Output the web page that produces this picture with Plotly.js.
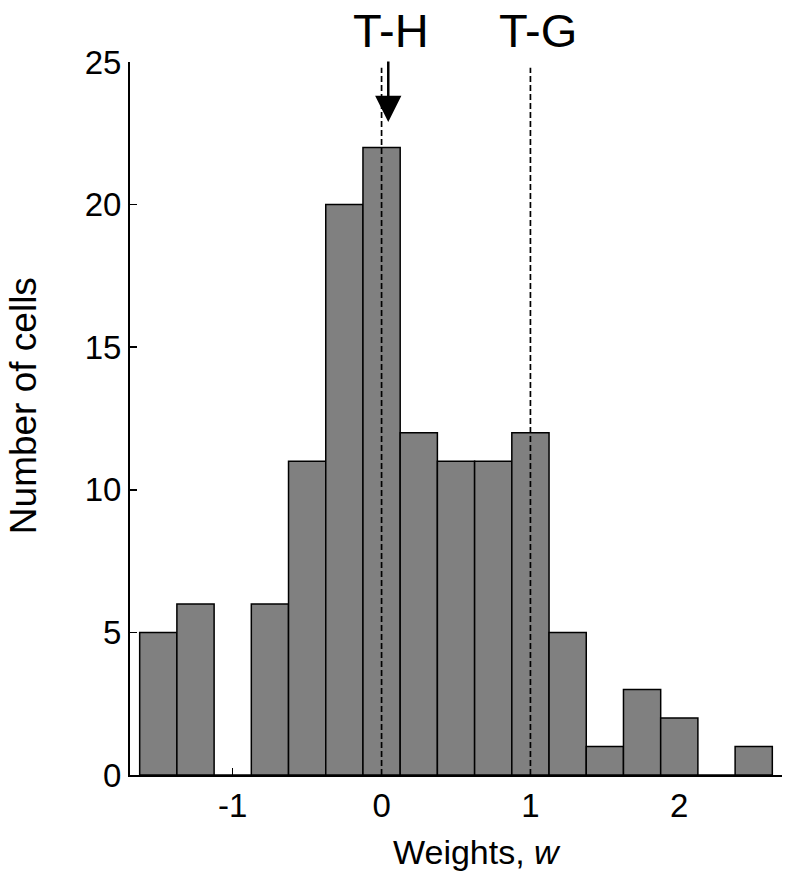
<!DOCTYPE html>
<html>
<head>
<meta charset="utf-8">
<script src="https://cdn.plot.ly/plotly-3.0.1.min.js"></script>
<style>
  html, body { margin: 0; padding: 0; background: #fff; }
  #plot { width: 800px; height: 883px; }
</style>
</head>
<body>
<div id="plot"></div>
<script>
// bin centres (width 0.25) and counts
const binCenters = [-1.5, -1.25, -1.0, -0.75, -0.5, -0.25, 0, 0.25, 0.5, 0.75, 1.0, 1.25, 1.5, 1.75, 2.0, 2.25, 2.5];
const counts = [5, 6, 0, 6, 11, 20, 22, 12, 11, 11, 12, 5, 1, 3, 2, 0, 1];
const binWidth = 0.25;

// reference lines and their labels
const refX = [0, 1];
const refLabels = ["T-H", "T-G"];

const xTicks = [-1, 0, 1, 2];
const yTicks = [0, 5, 10, 15, 20, 25];

const font = "Liberation Sans, Arial, sans-serif";

const data = [{
  type: "bar",
  x: binCenters,
  y: counts,
  width: binWidth,
  marker: { color: "#808080", line: { color: "#000", width: 1.5 } },
  hoverinfo: "none"
}];

const shapes = refX.map(x => ({
  type: "line", xref: "x", yref: "y",
  x0: x, x1: x, y0: 0, y1: 24.8,
  line: { color: "#000", width: 1.7, dash: "6px,3px" },
  layer: "above"
}));

const annotations = refX.map((x, i) => ({
  x: x + (i === 0 ? 0.06 : 0.05), y: 1, xref: "x", yref: "paper",
  yanchor: "bottom", yshift: 3,
  text: refLabels[i], showarrow: false,
  font: { family: font, size: 47, color: "#000" }
}));

// arrow pointing at the tallest bar
annotations.push({
  x: 0.045, y: 22.9, xref: "x", yref: "y",
  ax: 0, ay: -62, axref: "pixel", ayref: "pixel",
  text: "", showarrow: true,
  arrowhead: 2, arrowsize: 2.1, arrowwidth: 2.5, arrowcolor: "#000"
});

// axis titles placed as annotations to match their offsets
annotations.push({
  x: 0.532, y: 0, xref: "paper", yref: "paper",
  yanchor: "top", yshift: -56,
  text: "Weights, <i>w</i>", showarrow: false,
  font: { family: font, size: 34, color: "#000" }
});
annotations.push({
  x: 0, y: 0.518, xref: "paper", yref: "paper",
  xanchor: "right", xshift: -84, textangle: -90,
  text: "Number of cells", showarrow: false,
  font: { family: font, size: 37, color: "#000" }
});

const layout = {
  width: 800, height: 883,
  margin: { l: 130, r: 18, t: 62, b: 108 },
  paper_bgcolor: "#fff", plot_bgcolor: "#fff",
  showlegend: false,
  bargap: 0,
  font: { family: font, color: "#000" },
  xaxis: {
    range: [-1.69, 2.69],
    tickvals: xTicks, ticktext: xTicks.map(String),
    ticks: "inside", ticklen: 7, tickwidth: 1.5, tickcolor: "#000",
    showline: true, linecolor: "#000", linewidth: 2,
    showgrid: false, zeroline: false,
    layer: "below traces",
    tickfont: { family: font, size: 33, color: "#000" }
  },
  yaxis: {
    range: [0, 25],
    tickvals: yTicks, ticktext: yTicks.map(String),
    ticks: "inside", ticklen: 7, tickwidth: 1.5, tickcolor: "#000",
    showline: true, linecolor: "#000", linewidth: 2,
    showgrid: false, zeroline: false,
    layer: "below traces",
    tickfont: { family: font, size: 33, color: "#000" }
  },
  shapes: shapes,
  annotations: annotations
};

Plotly.newPlot("plot", data, layout, { displayModeBar: false, staticPlot: true });
</script>
</body>
</html>
